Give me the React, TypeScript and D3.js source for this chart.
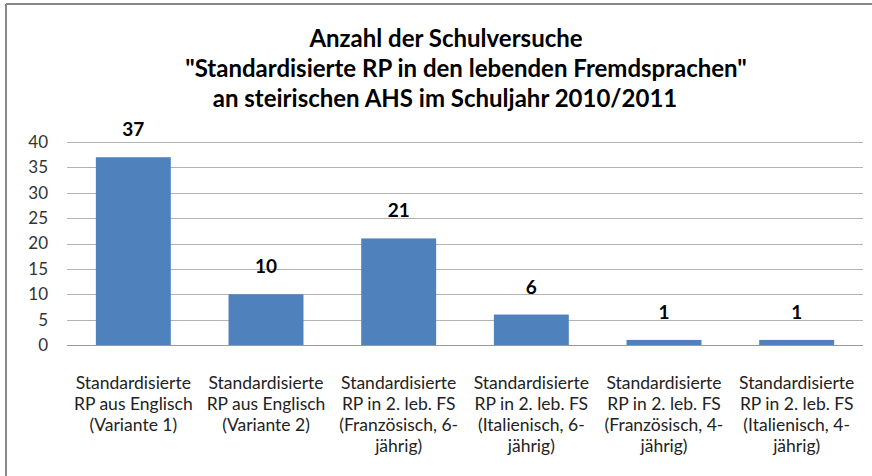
import React from "react";
import * as d3 from "d3";

const categories = [
  ["Standardisierte", "RP aus Englisch", "(Variante 1)"],
  ["Standardisierte", "RP aus Englisch", "(Variante 2)"],
  ["Standardisierte", "RP in 2. leb. FS", "(Französisch, 6-", "jährig)"],
  ["Standardisierte", "RP in 2. leb. FS", "(Italienisch, 6-", "jährig)"],
  ["Standardisierte", "RP in 2. leb. FS", "(Französisch, 4-", "jährig)"],
  ["Standardisierte", "RP in 2. leb. FS", "(Italienisch, 4-", "jährig)"],
];
const values = [37, 10, 21, 6, 1, 1];
const yTicks = [0, 5, 10, 15, 20, 25, 30, 35, 40];
const titleLines = [
  "Anzahl der Schulversuche",
  "\"Standardisierte RP in den lebenden Fremdsprachen\"",
  "an steirischen AHS im Schuljahr 2010/2011",
];

const W = 872;
const H = 476;
const font = "Lato, 'Open Sans', sans-serif";

export default function App() {
  const x = d3
    .scaleBand<number>()
    .domain(d3.range(values.length))
    .range([67, 863])
    .paddingInner(0.435)
    .paddingOuter(0.2175);
  const y = d3.scaleLinear().domain([0, 40]).range([345, 142]);

  const titleX = [446, 466, 445];
  const titleY = [47, 77, 107];

  return (
    <svg
      width={W}
      height={H}
      style={{ position: "absolute", left: 0, top: 0, background: "#fff" }}
    >
      <rect x={0} y={0} width={W} height={H} fill="#fff" />
      {/* frame */}
      <line x1={6} y1={4} x2={W} y2={4} stroke="#888" strokeWidth={2} />
      <line x1={6} y1={4} x2={6} y2={H} stroke="#888" strokeWidth={2} />

      {titleLines.map((t, i) => (
        <text
          key={i}
          x={titleX[i]}
          y={titleY[i]}
          textAnchor="middle"
          fontFamily={font}
          fontWeight="bold"
          fontSize={24}
          fill="#000"
        >
          {t}
        </text>
      ))}

      {yTicks.map((t) => (
        <g key={t}>
          <line
            x1={67}
            x2={863}
            y1={Math.round(y(t)) + 0.5}
            y2={Math.round(y(t)) + 0.5}
            stroke={t === 0 ? "#999" : "#b3b3b3"}
            strokeWidth={1}
          />
          <text
            x={48}
            y={y(t)}
            dy="0.35em"
            textAnchor="end"
            fontFamily={font}
            fontSize={17}
            fill="#333"
          >
            {t}
          </text>
        </g>
      ))}

      {values.map((v, i) => (
        <g key={i}>
          <rect
            x={x(i)}
            y={y(v)}
            width={x.bandwidth()}
            height={y(0) - y(v)}
            fill="#4f81bd"
          />
          <text
            x={(x(i) as number) + x.bandwidth() / 2}
            y={y(v) - 21}
            textAnchor="middle"
            fontFamily={font}
            fontWeight="bold"
            fontSize={19}
            fill="#000"
          >
            {v}
          </text>
        </g>
      ))}

      {categories.map((lines, i) => (
        <text
          key={i}
          x={(x(i) as number) + x.bandwidth() / 2}
          y={389}
          textAnchor="middle"
          fontFamily={font}
          fontSize={17.5}
          fill="#222"
        >
          {lines.map((l, j) => (
            <tspan key={j} x={(x(i) as number) + x.bandwidth() / 2} dy={j === 0 ? 0 : 21}>
              {l}
            </tspan>
          ))}
        </text>
      ))}
    </svg>
  );
}
